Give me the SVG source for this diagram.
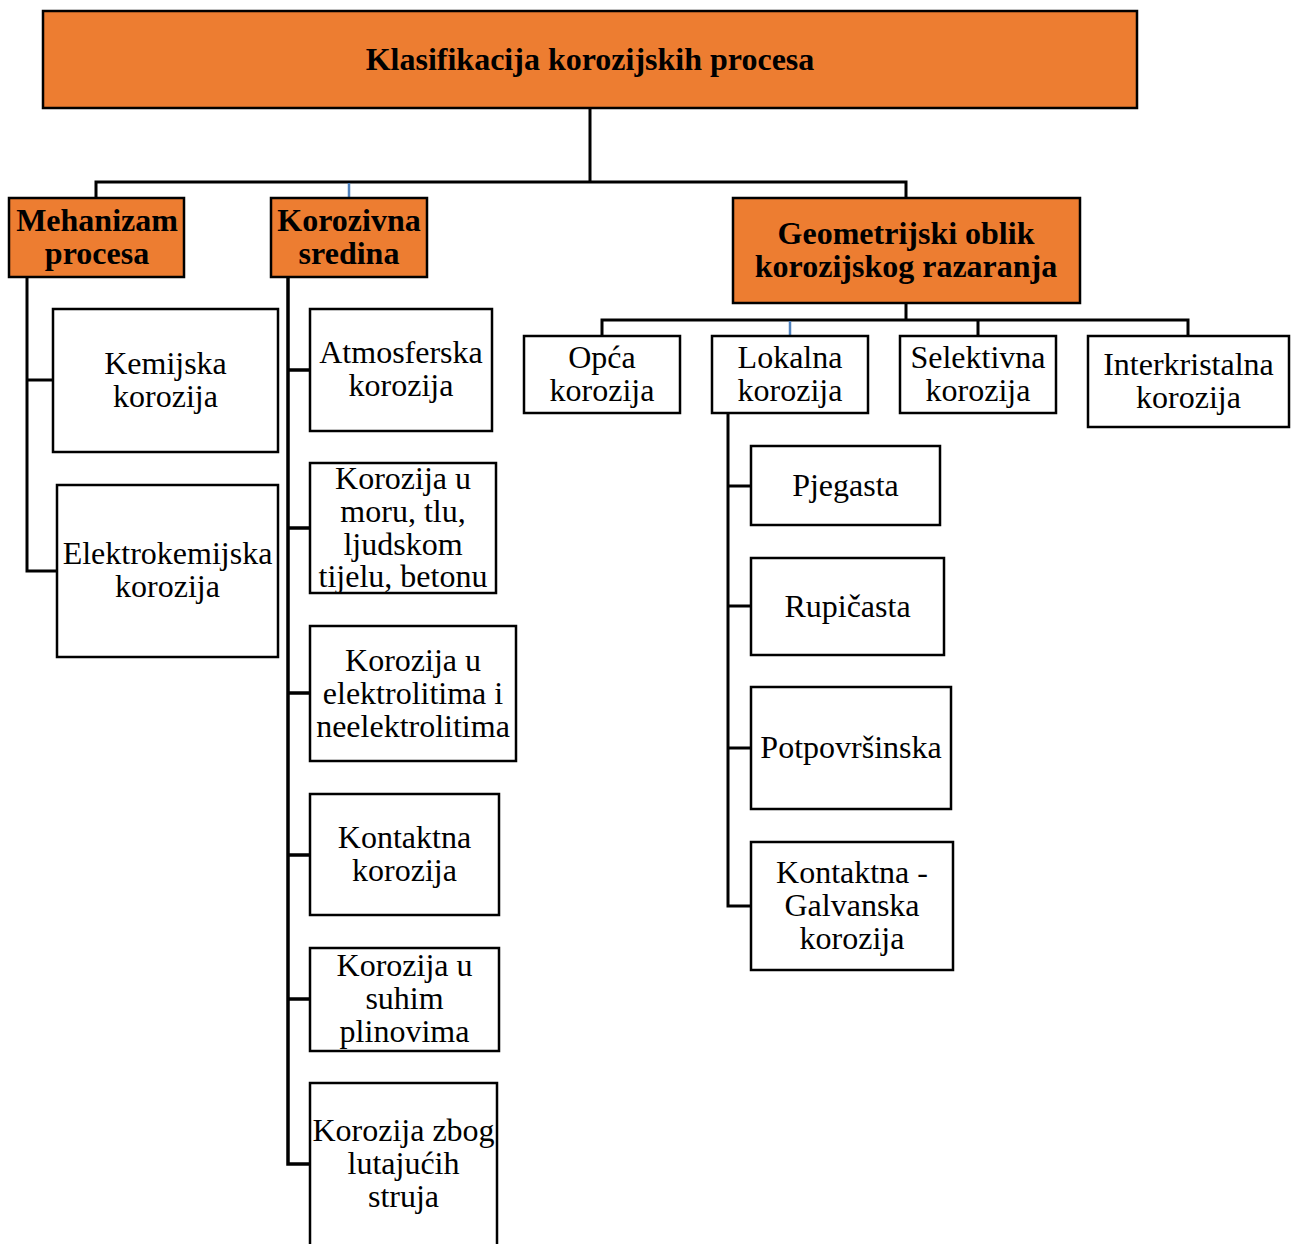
<svg xmlns="http://www.w3.org/2000/svg" width="1296" height="1244" viewBox="0 0 1296 1244">
<style>
.box{fill:#fff;stroke:#000;stroke-width:2.5}
.hd{fill:#ED7D31;stroke:#000;stroke-width:2.5}
text{font-family:"Liberation Serif","Times New Roman",serif;font-size:32px;fill:#000;text-anchor:middle}
.b{font-weight:bold}
.ln{stroke:#000;stroke-width:3;fill:none}
.bl{stroke:#4F81BD;stroke-width:2.5;fill:none}
</style>
<rect width="1296" height="1244" fill="#fff"/>
<g id="connectors">
<path class="ln" d="M590,108 V182 M96,199 V182 H906 V199"/>
<path class="bl" d="M349,183 V199"/>
<path class="ln" d="M906,303 V320 M602,336 V320 H1188 V336 M978,320 V336"/>
<path class="bl" d="M790,321 V336"/>
<path class="ln" d="M27,277 V571 H57 M27,380 H53"/>
<path class="ln" style="stroke-width:3.5" d="M288,277 V1164 H310 M288,370 H310 M288,528 H310 M288,693 H310 M288,855 H310 M288,999 H310"/>
<path class="ln" d="M728,413 V906 H751 M728,486 H751 M728,606 H751 M728,748 H751"/>
</g>
<g id="root"><rect class="hd" x="43" y="11" width="1094" height="97"/><text class="b" x="590" y="70">Klasifikacija korozijskih procesa</text></g>
<g id="mehanizam"><rect class="hd" x="9" y="198" width="175" height="79"/><text class="b" x="97" y="231">Mehanizam</text><text class="b" x="97" y="264">procesa</text></g>
<g id="korozivna"><rect class="hd" x="271" y="198" width="156" height="79"/><text class="b" x="349" y="231">Korozivna</text><text class="b" x="349" y="264">sredina</text></g>
<g id="geometrijski"><rect class="hd" x="733" y="198" width="347" height="105"/><text class="b" x="906" y="244">Geometrijski oblik</text><text class="b" x="906" y="277">korozijskog razaranja</text></g>
<g id="kemijska"><rect class="box" x="53" y="309" width="225" height="143"/><text x="165.5" y="374">Kemijska</text><text x="165.5" y="407">korozija</text></g>
<g id="elektrokemijska"><rect class="box" x="57" y="485" width="221" height="172"/><text x="167.5" y="564">Elektrokemijska</text><text x="167.5" y="597">korozija</text></g>
<g id="atmosferska"><rect class="box" x="310" y="309" width="182" height="122"/><text x="401" y="363">Atmosferska</text><text x="401" y="396">korozija</text></g>
<g id="moru"><rect class="box" x="310" y="463" width="186" height="130"/><text x="403" y="489">Korozija u</text><text x="403" y="522">moru, tlu,</text><text x="403" y="555">ljudskom</text><text x="403" y="587">tijelu, betonu</text></g>
<g id="elektrolitima"><rect class="box" x="310" y="626" width="206" height="135"/><text x="413" y="671">Korozija u</text><text x="413" y="704">elektrolitima i</text><text x="413" y="737">neelektrolitima</text></g>
<g id="kontaktna"><rect class="box" x="310" y="794" width="189" height="121"/><text x="404.5" y="848">Kontaktna</text><text x="404.5" y="881">korozija</text></g>
<g id="suhim"><rect class="box" x="310" y="948" width="189" height="103"/><text x="404.5" y="976">Korozija u</text><text x="404.5" y="1009">suhim</text><text x="404.5" y="1042">plinovima</text></g>
<g id="lutajucih"><rect class="box" x="310" y="1083" width="187" height="170"/><text x="403.5" y="1141">Korozija zbog</text><text x="403.5" y="1174">lutajućih</text><text x="403.5" y="1207">struja</text></g>
<g id="opca"><rect class="box" x="524" y="336" width="156" height="77"/><text x="602" y="368">Opća</text><text x="602" y="401">korozija</text></g>
<g id="lokalna"><rect class="box" x="712" y="336" width="156" height="77"/><text x="790" y="368">Lokalna</text><text x="790" y="401">korozija</text></g>
<g id="selektivna"><rect class="box" x="900" y="336" width="156" height="77"/><text x="978" y="368">Selektivna</text><text x="978" y="401">korozija</text></g>
<g id="interkristalna"><rect class="box" x="1088" y="336" width="201" height="91"/><text x="1188.5" y="375">Interkristalna</text><text x="1188.5" y="408">korozija</text></g>
<g id="pjegasta"><rect class="box" x="751" y="446" width="189" height="79"/><text x="845.5" y="496">Pjegasta</text></g>
<g id="rupicasta"><rect class="box" x="751" y="558" width="193" height="97"/><text x="847.5" y="617">Rupičasta</text></g>
<g id="potpovrsinska"><rect class="box" x="751" y="687" width="200" height="122"/><text x="851" y="758">Potpovršinska</text></g>
<g id="galvanska"><rect class="box" x="751" y="842" width="202" height="128"/><text x="852" y="883">Kontaktna -</text><text x="852" y="916">Galvanska</text><text x="852" y="949">korozija</text></g>
</svg>
